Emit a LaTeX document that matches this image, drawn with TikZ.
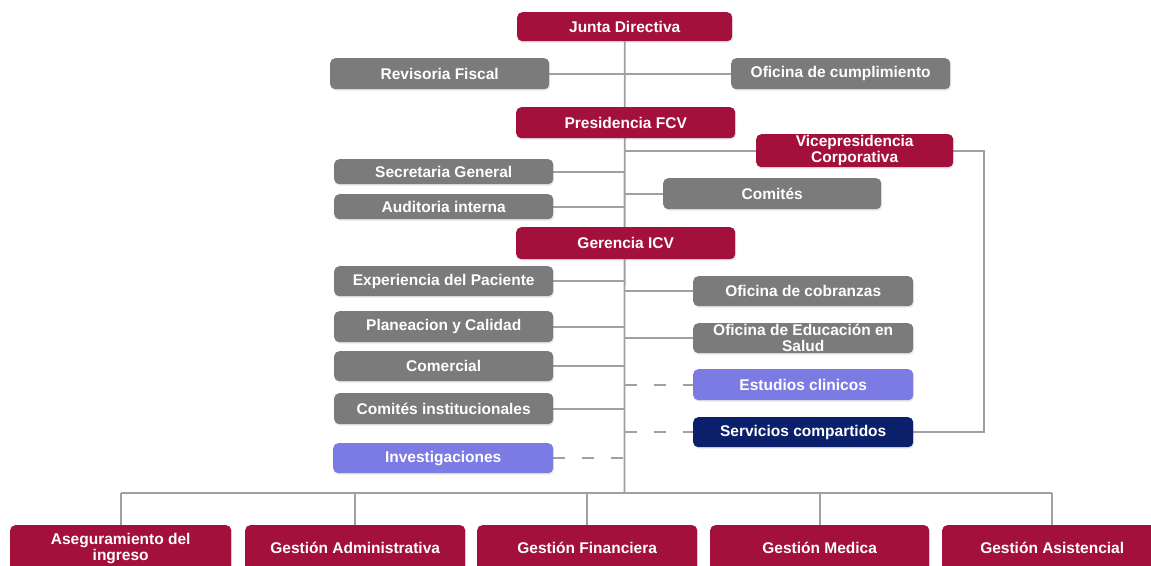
\documentclass[tikz,border=0pt]{standalone}
\usepackage{fontspec}
\setmainfont{Liberation Sans}
\usetikzlibrary{backgrounds,shadows}
\definecolor{crim}{HTML}{A3103B}
\definecolor{gbox}{HTML}{7B7B7B}
\definecolor{lpur}{HTML}{7B7BE3}
\definecolor{navy}{HTML}{0B1F6B}
\definecolor{lin}{HTML}{A0A0A0}
\begin{document}
\begin{tikzpicture}[x=1pt,y=-1pt,
  box/.style={rounded corners=5pt, text=white, font=\fontsize{15.5}{16}\selectfont\bfseries, align=center, inner sep=0pt, anchor=north west,
    drop shadow={opacity=0.2, shadow xshift=1pt, shadow yshift=-1.5pt}},
  conn/.style={draw=lin, line width=1.8pt},
  dconn/.style={draw=lin, line width=1.8pt, dash pattern=on 12pt off 17pt}]
\useasboundingbox (0,0) rectangle (1151,565);
\clip (0,0) rectangle (1151,565);
\newcommand{\obox}[7]{\node[box, fill=#6, minimum width=#4pt, minimum height=#5pt] (#1) at (#2,#3) {#7};}
\coordinate (sp) at (624.5,0);
\coordinate (bus) at (624.5,493);
\coordinate (rt) at (984,300);
\coordinate (bl) at (121,493);
\coordinate (br) at (1052,493);
% boxes
\obox{junta}{517}{12}{215}{29}{crim}{Junta Directiva}
\obox{rev}{330}{58}{219}{31}{gbox}{Revisoria Fiscal}
\obox{cump}{731}{58}{219}{31}{gbox}{Oficina de cumplimiento}
\obox{pres}{516}{107}{219}{31}{crim}{Presidencia FCV}
\obox{vice}{756}{134}{197}{33}{crim}{Vicepresidencia\\Corporativa}
\obox{secr}{334}{159}{219}{25}{gbox}{Secretaria General}
\obox{comi}{663}{178}{218}{31}{gbox}{Comités}
\obox{audi}{334}{194}{219}{25}{gbox}{Auditoria interna}
\obox{gere}{516}{227}{219}{32}{crim}{Gerencia ICV}
\obox{expe}{334}{266}{219}{30}{gbox}{Experiencia del Paciente}
\obox{cobr}{693}{276}{220}{30}{gbox}{Oficina de cobranzas}
\obox{plan}{334}{311}{219}{31}{gbox}{Planeacion y Calidad}
\obox{educ}{693}{323}{220}{30}{gbox}{Oficina de Educación en\\Salud}
\obox{come}{334}{351}{219}{30}{gbox}{Comercial}
\obox{estu}{693}{369}{220}{31}{lpur}{Estudios clinicos}
\obox{cins}{334}{393}{219}{31}{gbox}{Comités institucionales}
\obox{serv}{693}{417}{220}{30}{navy}{Servicios compartidos}
\obox{inve}{333}{443}{220}{30}{lpur}{Investigaciones}
\obox{aseg}{10}{525}{221}{46}{crim}{Aseguramiento del\\ingreso}
\obox{gadm}{245}{525}{220}{46}{crim}{Gestión Administrativa}
\obox{gfin}{477}{525}{220}{46}{crim}{Gestión Financiera}
\obox{gmed}{710}{525}{219}{46}{crim}{Gestión Medica}
\obox{gasi}{942}{525}{220}{46}{crim}{Gestión Asistencial}
% connectors behind the boxes
\begin{scope}[on background layer]
\draw[conn] (junta.south) -- (bus);
\foreach \n in {rev,secr,audi,expe,plan,come,cins}
  \draw[conn] (\n.east) -- (\n.east -| sp);
\foreach \n in {cump,vice,comi,cobr,educ}
  \draw[conn] (\n.west) -- (\n.west -| sp);
\draw[dconn] (inve.east) -- (inve.east -| sp);
\draw[dconn] (estu.west -| sp) -- (estu.west);
\draw[dconn] (serv.west -| sp) -- (serv.west);
\draw[conn] (vice.east) -- (vice.east -| rt) -- (serv.east -| rt) -- (serv.east);
\draw[conn] (bl) -- (br);
\foreach \n in {aseg,gadm,gfin,gmed,gasi}
  \draw[conn] (\n.north) -- (\n.north |- bus);
\end{scope}
\end{tikzpicture}
\end{document}
